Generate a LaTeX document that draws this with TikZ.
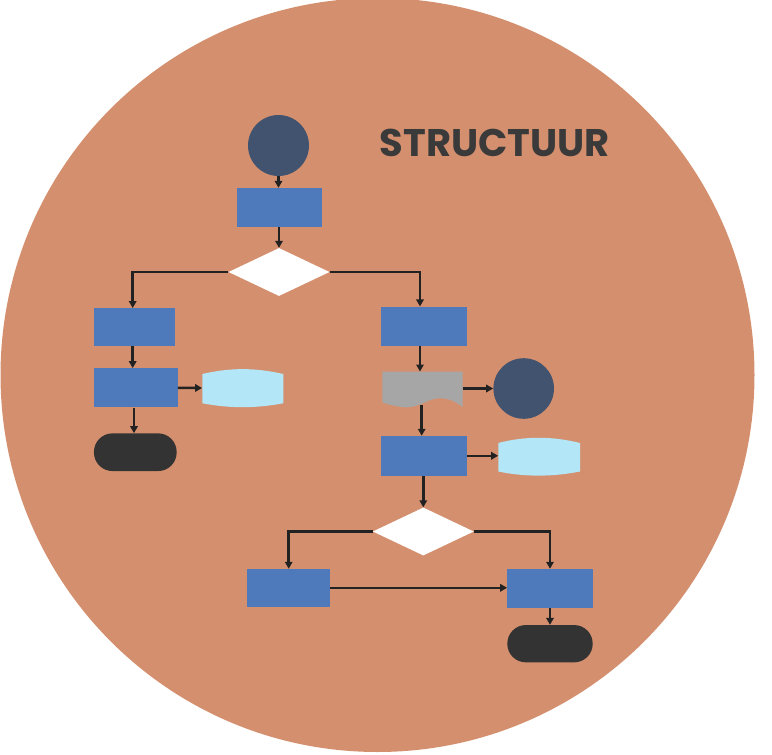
\documentclass[tikz,border=0pt]{standalone}
\usepackage{fontspec}
\newfontfamily\titlefont{Poppins}
\usetikzlibrary{arrows.meta,shapes.geometric}
\definecolor{bgc}{HTML}{D4906E}
\definecolor{boxblue}{HTML}{4E7ABC}
\definecolor{navy}{HTML}{42536F}
\definecolor{termc}{HTML}{333333}
\definecolor{docblue}{HTML}{B3E6F7}
\definecolor{docgray}{HTML}{A6A6A6}
\definecolor{linec}{HTML}{222222}
\definecolor{titlec}{HTML}{3A3A3A}
\tikzset{
  procbox/.style={rectangle, fill=boxblue, inner sep=0pt},
  startdot/.style={circle, fill=navy, inner sep=0pt},
  decide/.style={diamond, fill=white, inner sep=0pt, minimum width=101pt, minimum height=48pt},
  termbox/.style={rectangle, rounded corners=18.5pt, fill=termc, inner sep=0pt},
  anchorbox/.style={rectangle, draw=none, inner sep=0pt},
  conn/.style={draw=linec, line width=2.5pt, -{Triangle[length=7pt,width=7.5pt]}},
}
\begin{document}
\begin{tikzpicture}[x=1pt,y=-1pt]
\useasboundingbox (0,0) rectangle (772,755);
\fill[bgc] (377.5,375) circle (377pt);

% title
\node (title) at (495,143) {\titlefont\bfseries\fontsize{38.5}{44}\selectfont\color{titlec}STRUCTUUR};

% nodes
\node[startdot, minimum size=61pt] (start) at (278.5,145.5) {};
\node[procbox, minimum width=85pt, minimum height=39pt] (b1) at (279.5,207.5) {};
\node[decide] (d1) at (279,272) {};
\node[procbox, minimum width=81pt, minimum height=37.5pt] (l1) at (134.5,327) {};
\node[procbox, minimum width=83.7pt, minimum height=39pt] (l2) at (135.8,387.8) {};
\node[termbox, minimum width=82.7pt, minimum height=37.7pt] (lt) at (135.3,452.2) {};
\node[procbox, minimum width=85.7pt, minimum height=39.3pt] (r1) at (423.8,326.3) {};
\node[startdot, minimum size=60.6pt] (rc) at (523.7,388.5) {};
\node[procbox, minimum width=85.7pt, minimum height=39.7pt] (r2) at (423.8,455.8) {};
\node[decide] (d2) at (423.3,531.5) {};
\node[procbox, minimum width=82.7pt, minimum height=37.7pt] (bl) at (288.7,587.8) {};
\node[procbox, minimum width=85.4pt, minimum height=38.7pt] (br) at (550,588.3) {};
\node[termbox, minimum width=85.4pt, minimum height=37.3pt] (bt) at (550,643.7) {};

% light blue barrel shapes
\fill[docblue] (202.3,374) .. controls (230,367.5) and (255,367.5) .. (283.3,374)
  -- (283.3,403.3) .. controls (255,408.5) and (230,408.5) .. (202.3,403.3) -- cycle;
\node[anchorbox, minimum width=81pt, minimum height=37pt] (ldoc) at (242.8,388) {};
\fill[docblue] (498.3,443) .. controls (525,436) and (552,436) .. (580,443)
  -- (580,471.5) .. controls (552,477) and (525,477) .. (498.3,471.5) -- cycle;
\node[anchorbox, minimum width=81.7pt, minimum height=37pt] (rdoc) at (539.2,456.3) {};

% gray document shape
\fill[docgray] (382.3,371.7) -- (462.7,371.7) -- (462.7,407)
  .. controls (455,401) and (447,397.5) .. (437,398.5)
  .. controls (425,400) and (418,409) .. (402,407)
  .. controls (394,406) and (388,404.5) .. (382.3,402.5) -- cycle;
\node[anchorbox, minimum width=80.4pt, minimum height=33.6pt] (gdoc) at (422.5,388.5) {};
\coordinate (gbot) at (421.7,405);

% connectors
\draw[conn] (start.south) -- (start.south |- b1.north);
\draw[conn] (b1.south -| d1.north) -- (d1.north);
\draw[conn] (d1.west) -| ([xshift=-1.8pt]l1.north);
\draw[conn] (d1.east) -| ([xshift=-3.8pt]r1.north);
\draw[conn] ([xshift=-1.8pt]l1.south) -- ([xshift=-1.8pt]l1.south |- l2.north);
\draw[conn] ([xshift=-1.8pt]l2.south) -- ([xshift=-1.8pt]l2.south |- lt.north);
\draw[conn] (l2.east) -- (ldoc.west);
\draw[conn] ([xshift=-3.8pt]r1.south) -- ([xshift=-3.8pt]r1.south |- gdoc.north);
\draw[conn] (gbot) -- (gbot |- r2.north);
\draw[conn] (gdoc.east) -- (rc.west);
\draw[conn] (r2.south -| d2.north) -- (d2.north);
\draw[conn] (r2.east) -- (r2.east -| rdoc.west);
\draw[conn] (d2.west) -| (bl.north);
\draw[conn] (d2.east) -| (br.north);
\draw[conn] (bl.east) -- (bl.east -| br.west);
\draw[conn] (br.south) -- (bt.north);
\end{tikzpicture}
\end{document}
